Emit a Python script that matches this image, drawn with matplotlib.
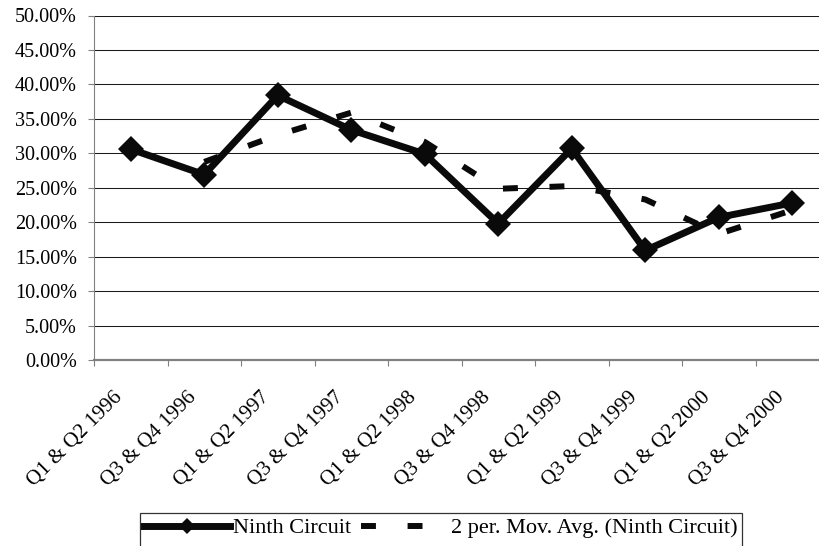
import matplotlib
matplotlib.use("Agg")
import matplotlib.pyplot as plt
import matplotlib.transforms as mtransforms
from matplotlib.patches import Rectangle
import numpy as np
import pandas as pd

# Half-year periods and the Ninth Circuit rate for each
periods = ["Q1 & Q2 1996", "Q3 & Q4 1996", "Q1 & Q2 1997", "Q3 & Q4 1997",
           "Q1 & Q2 1998", "Q3 & Q4 1998", "Q1 & Q2 1999", "Q3 & Q4 1999",
           "Q1 & Q2 2000", "Q3 & Q4 2000"]
ninth = [30.6, 26.9, 38.4, 33.4, 29.9, 19.8, 30.7, 15.9, 20.7, 22.8]

# 2-period moving average trendline (as Excel builds it)
mov_avg = pd.Series(ninth).rolling(2).mean()

plt.rcParams['font.family'] = ['Liberation Serif', 'DejaVu Serif']
W, H = 819, 546
fig = plt.figure(figsize=(W / 100, H / 100), dpi=100)

# plot area in pixel terms (right edge runs a bit past the picture)
ax = fig.add_axes([94 / W, 1 - 360 / H, 735 / W, 344.5 / H])

x = np.arange(len(periods))
ink = '#0a0a0a'
ax.plot(x, ninth, color=ink, lw=5, marker='D', markersize=13.5,
        markeredgewidth=0, zorder=3, label='Ninth Circuit')
ax.plot(x, mov_avg, color=ink, lw=4.3, dashes=(2.5, 5.3),
        dash_capstyle='butt', zorder=4,
        label='2 per. Mov. Avg. (Ninth Circuit)')

ax.set_xlim(-0.5, len(periods) - 0.5)
ax.set_ylim(0, 50)
yt = np.arange(0, 50.1, 5)
ax.set_yticks(yt)
ax.set_yticklabels([f"{v:.2f}%" for v in yt])
ax.yaxis.grid(True, color='#1a1a1a', lw=0.75)
ax.set_axisbelow(True)

# category boundary ticks, labels centred on categories
ax.set_xticks(np.arange(-0.5, len(periods), 1.0))
ax.set_xticklabels([])
ax.set_xticks(x, minor=True)
ax.set_xticklabels(periods, minor=True, rotation=45, ha='right', va='center',
                   rotation_mode='anchor')
ax.tick_params(axis='x', which='major', length=4.3, width=0.8, color='#808080',
               direction='out')
ax.tick_params(axis='x', which='minor', length=0, pad=25, labelsize=15.2)
ax.tick_params(axis='y', length=4.3, width=0.8, color='#808080', pad=8,
               labelsize=14.5)
shift = mtransforms.ScaledTranslation(-11 / 100, 0, fig.dpi_scale_trans)
for lab in ax.get_xticklabels(minor=True):
    lab.set_transform(lab.get_transform() + shift)

for s in ('top', 'right'):
    ax.spines[s].set_visible(False)
ax.spines['left'].set_color('#808080')
ax.spines['left'].set_linewidth(0.8)
ax.spines['bottom'].set_color('#808080')
ax.spines['bottom'].set_linewidth(1.6)

# legend box, its bottom edge falls off the picture
fig.patches.append(Rectangle((140 / W, 1 - 570 / H), 602 / W, 57 / H,
                             transform=fig.transFigure, fill=False,
                             edgecolor='#333333', lw=0.9))
leg = fig.legend(loc='center left', bbox_to_anchor=(144 / W, 1 - 528 / H),
                 ncol=2, frameon=False, borderpad=0, borderaxespad=0,
                 handlelength=3.87, handletextpad=0.15, columnspacing=0.45,
                 fontsize=16)
leg.legend_handles[0].set_markersize(8)

fig.savefig('out.png', dpi=100)
